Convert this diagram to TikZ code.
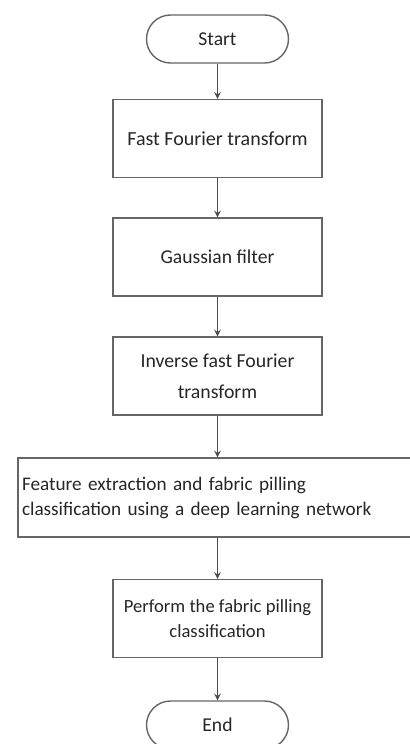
\documentclass[tikz,border=0pt]{standalone}
\usepackage{fontspec}
\setmainfont{Carlito}
\usepackage{tikz}

\tikzset{
  stepbox/.style={draw=black!60,line width=0.7pt,text=black!85,minimum width=104.5pt,minimum height=39pt,align=center,inner sep=2pt,font=\fontsize{9.8pt}{12.5pt}\selectfont},
  termbox/.style={stepbox,rounded corners=12pt,minimum width=71pt,minimum height=24pt},
  flow/.style={draw=black!70,line width=0.5pt,-stealth}
}

\begin{document}
\begin{tikzpicture}[x=0.5pt,y=-0.5pt]
  \useasboundingbox (0,0) rectangle (409,744);
  \node[termbox] (start) at (217.5,39) {Start};
  \node[stepbox,font=\fontsize{10pt}{12.5pt}\selectfont] (fft) at (217.5,138.5) {Fast Fourier transform};
  \node[stepbox] (gauss) at (217.5,257) {Gaussian filter};
  \node[stepbox,font=\fontsize{9.9pt}{15.5pt}\selectfont] (ifft) at (217.5,376) {Inverse fast Fourier\\transform};
  \node[stepbox,align=left,text width=195.5pt,minimum height=39.5pt,font=\fontsize{9.6pt}{12.5pt}\selectfont] (feat) at (217.5,497.5) {Feature extraction and fabric pilling\\classification using a deep learning network};
  \node[stepbox,font=\fontsize{9.3pt}{12.5pt}\selectfont] (perf) at (217.5,618.5) {Perform the fabric pilling\\classification};
  \node[termbox] (end) at (217.5,725) {End};
  \draw[flow] (start) -- (fft);
  \draw[flow] (fft) -- (gauss);
  \draw[flow] (gauss) -- (ifft);
  \draw[flow] (ifft) -- (feat);
  \draw[flow] (feat) -- (perf);
  \draw[flow] (perf) -- (end);
\end{tikzpicture}
\end{document}
